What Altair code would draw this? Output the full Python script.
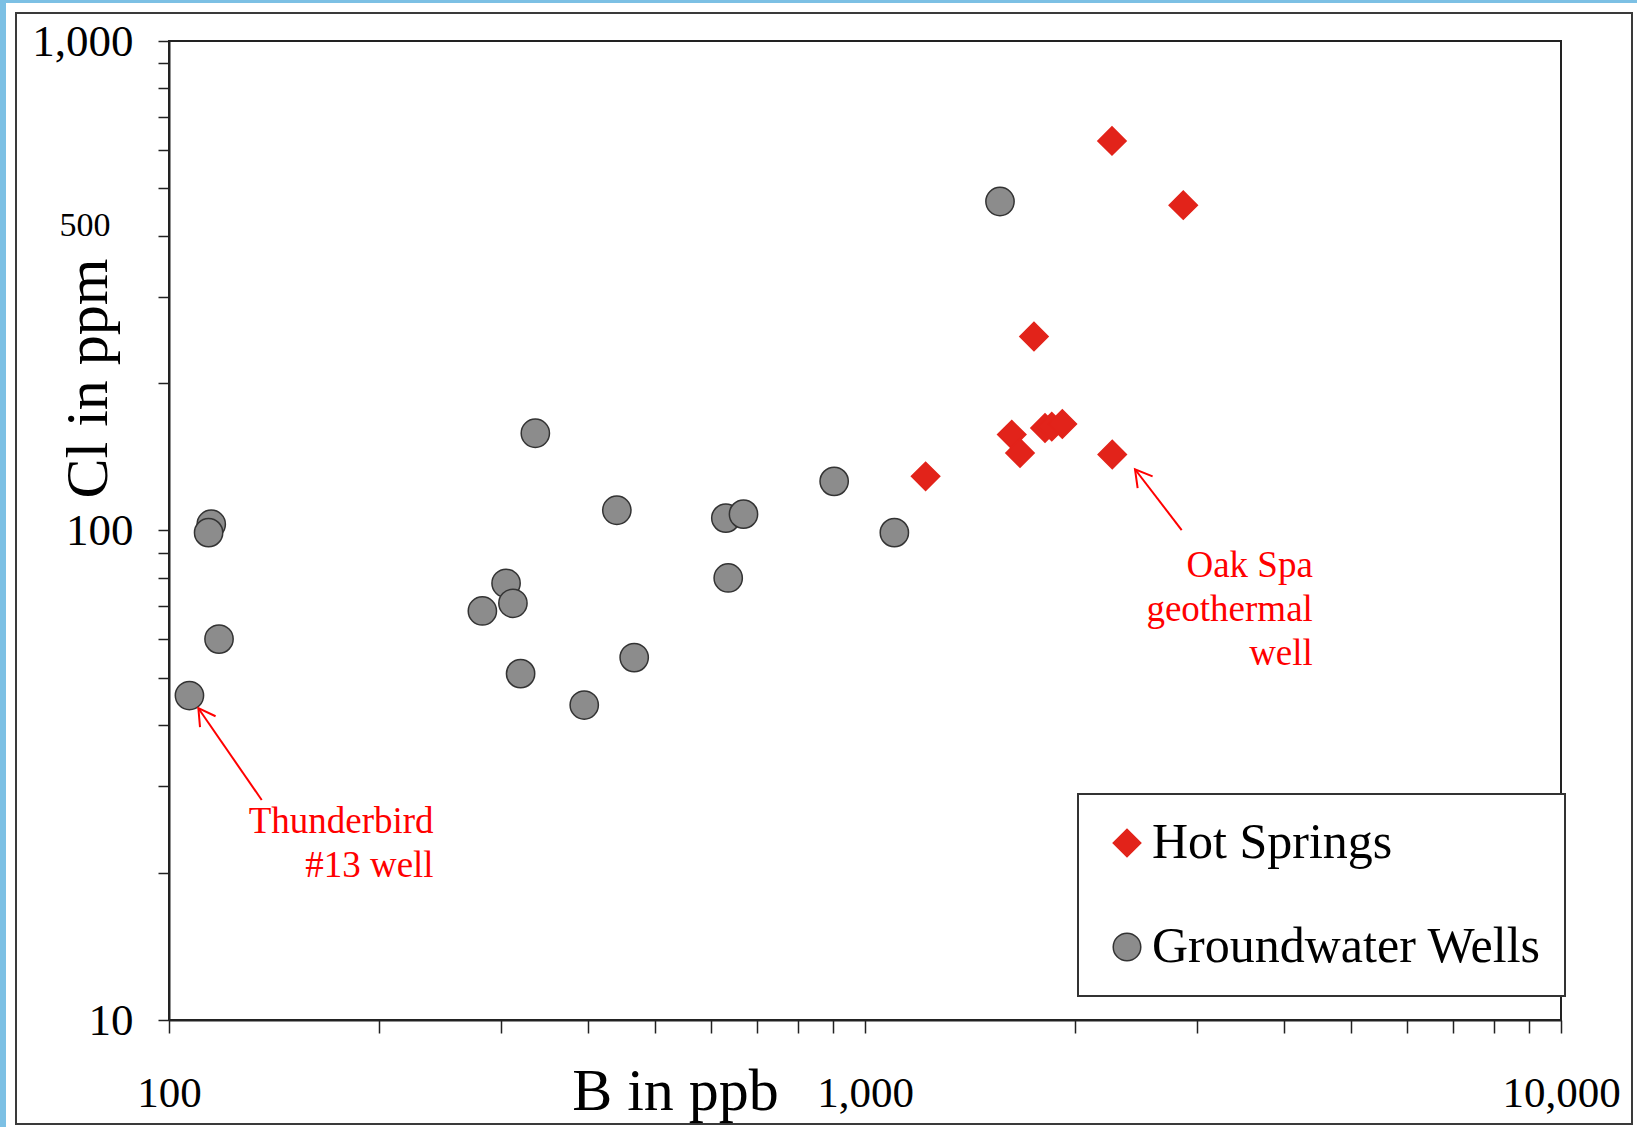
import altair as alt
import pandas as pd

# ---- data ----
series = ["Hot Springs", "Groundwater Wells"]

hot_b = [2264, 2866, 1749, 1625, 1670, 1814, 1855, 1921, 2266, 1222]
hot_cl = [625, 462, 249, 157, 144, 162, 163, 165, 143, 129]

gw_b = [115, 114, 118, 107, 336, 440, 305, 282, 312, 466, 320, 395,
        631, 669, 636, 903, 1102, 1563]
gw_cl = [103, 99, 60, 46, 158, 110, 78, 68.5, 71, 55, 51, 44,
         106, 108, 80, 126, 99, 470]

x_ticks = [100, 200, 300, 400, 500, 600, 700, 800, 900,
           1000, 2000, 3000, 4000, 5000, 6000, 7000, 8000, 9000, 10000]
y_ticks = [10, 20, 30, 40, 50, 60, 70, 80, 90,
           100, 200, 300, 400, 500, 600, 700, 800, 900, 1000]

ann_label = ["Thunderbird\n#13 well", "Oak Spa\ngeothermal\nwell"]
ann_text_b = [240, 4400]
ann_text_cl = [24.1, 80.5]
arrow_tip_b = [110.2, 2443]
arrow_tip_cl = [43.35, 133.4]
arrow_tail_b = [135.9, 2851]
arrow_tail_cl = [28.14, 100.2]

# ---- tables ----
pts = pd.DataFrame({
    "B": gw_b + hot_b,
    "Cl": gw_cl + hot_cl,
    "type": [series[1]] * len(gw_b) + [series[0]] * len(hot_b),
})
ann = pd.DataFrame({
    "label": ann_label,
    "tb": ann_text_b, "tc": ann_text_cl,
    "hb": arrow_tip_b, "hc": arrow_tip_cl,
    "lb": arrow_tail_b, "lc": arrow_tail_cl,
})
one = pd.DataFrame({"k": [0]})

FONT = "Liberation Serif"
RED = "#ff0000"

xscale = alt.Scale(type="log", domain=[100, 10000], nice=False)
yscale = alt.Scale(type="log", domain=[10, 1000], nice=False)

xaxis = alt.Axis(
    values=x_ticks,
    labelExpr="(datum.value == 100 || datum.value == 1000 || datum.value == 10000) ? format(datum.value, ',') : ''",
    labelFont=FONT, labelFontSize=43, labelColor="black",
    labelBaseline="alphabetic", labelPadding=73, labelFlush=False,
    labelOverlap=False, labelBound=False,
    tickSize=13, grid=False, zindex=1,
    title="B in ppb", titleFont=FONT, titleFontSize=60, titleFontWeight="normal",
    titleColor="black", titleX=506, titleY=89, titleAlign="center",
    titleBaseline="alphabetic",
)
yaxis = alt.Axis(
    values=y_ticks,
    labelExpr="datum.value == 1000 ? '1,000' : datum.value == 100 ? '100' : datum.value == 10 ? '10' : datum.value == 400 ? '500' : ''",
    labelFont=FONT, labelColor="black",
    labelFontSize={"condition": {"test": "datum.value == 400", "value": 34}, "value": 45},
    labelPadding={"condition": {"test": "datum.value == 400", "value": 48}, "value": 25},
    labelOffset={"condition": {"test": "datum.value == 400", "value": -10}, "value": 0},
    labelBaseline="middle", labelOverlap=False, labelBound=False, labelFlush=False,
    tickSize=11, grid=False, zindex=1,
    title="Cl in ppm", titleFont=FONT, titleFontSize=60, titleFontWeight="normal",
    titleColor="black", titleX=-63, titleY=337, titleAngle=270, titleAlign="center",
    titleBaseline="alphabetic",
)

def X(f):
    return alt.X(f, type="quantitative", scale=xscale, axis=xaxis)

def Y(f):
    return alt.Y(f, type="quantitative", scale=yscale, axis=yaxis)

leg = alt.Legend(
    title=None, orient="none", legendX=909, legendY=753,
    labelFont=FONT, labelFontSize=50, labelColor="black", labelLimit=0,
    symbolSize=760, symbolStrokeWidth=1.5, rowPadding=54, labelOffset=0,
    padding=24, strokeColor="#333333", fillColor="white",
)

points = alt.Chart(pts).mark_point(filled=True, strokeWidth=1.5, opacity=1, size=800).encode(
    x=X("B"), y=Y("Cl"),
    fill=alt.Fill("type:N", scale=alt.Scale(domain=series, range=["#e2231a", "#8c8c8c"]), legend=leg),
    stroke=alt.Stroke("type:N", scale=alt.Scale(domain=series, range=["#e2231a", "#333333"]), legend=leg),
    shape=alt.Shape("type:N", scale=alt.Scale(domain=series, range=["diamond", "circle"]), legend=leg),
    order=alt.Order("type:N", sort="ascending"),
)

arrows = alt.Chart(ann).mark_rule(color=RED, strokeWidth=2).encode(
    x=X("hb"), y=Y("hc"), x2="lb", y2="lc"
)

chevron = "M-0.5,0.866L0,0L0.5,0.866"
head1 = alt.Chart(ann).transform_filter(alt.datum.label == ann_label[0]).mark_point(
    shape=chevron, filled=False, stroke=RED, strokeWidth=2, size=1444, angle=325, opacity=1
).encode(x=X("hb"), y=Y("hc"))
head2 = alt.Chart(ann).transform_filter(alt.datum.label == ann_label[1]).mark_point(
    shape=chevron, filled=False, stroke=RED, strokeWidth=2, size=1444, angle=322, opacity=1
).encode(x=X("hb"), y=Y("hc"))

texts = alt.Chart(ann).mark_text(
    align="right", baseline="alphabetic", font=FONT, fontSize=37, color=RED,
    lineBreak="\n", lineHeight=44
).encode(x=X("tb"), y=Y("tc"), text="label:N")

# decorative page frame and blue edge strips (pixel positions relative to the plot)
frame = alt.Chart(one).mark_rect(fill="white", fillOpacity=0, stroke="#3a3a3a", strokeWidth=2).encode(
    x=alt.value(-153), x2=alt.value(1463), y=alt.value(-28), y2=alt.value(1083)
)
blue_left = alt.Chart(one).mark_rect(fill="#7cc0e4").encode(
    x=alt.value(-169), x2=alt.value(-163), y=alt.value(-41), y2=alt.value(1086)
)
blue_top = alt.Chart(one).mark_rect(fill="#7cc0e4").encode(
    x=alt.value(-169), x2=alt.value(1468), y=alt.value(-41), y2=alt.value(-38)
)

chart = alt.layer(
    frame, blue_left, blue_top, points, arrows, head1, head2, texts
).properties(
    width=1392, height=979,
    padding={"left": 169, "top": 41, "right": 76, "bottom": 107},
    autosize=alt.AutoSizeParams(type="none"),
    background="white",
).configure_view(
    stroke="#222222", strokeWidth=2
).configure_axis(
    domainColor="#222222", domainWidth=2, tickColor="#222222", tickWidth=1.5
).configure_legend(
    strokeWidth=2
)

chart.save("out.html", embed_options={"renderer": "svg", "actions": False})
